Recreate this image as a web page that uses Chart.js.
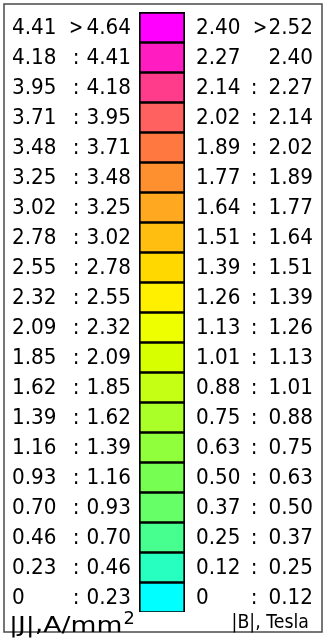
<!DOCTYPE html>
<html>
<head>
<meta charset="utf-8">
<script src="https://cdn.jsdelivr.net/npm/chart.js@4"></script>
<style>
  html, body { margin: 0; padding: 0; background: #fff; overflow: hidden; }
  #wrap { width: 325px; height: 638px; position: relative; }
</style>
</head>
<body>
<div id="wrap"><canvas id="legend" width="325" height="638"></canvas></div>
<script>
// Contour bands, listed from the top band to the bottom band.
const jLow = ['4.41', '4.18', '3.95', '3.71', '3.48', '3.25', '3.02', '2.78', '2.55', '2.32',
              '2.09', '1.85', '1.62', '1.39', '1.16', '0.93', '0.70', '0.46', '0.23', '0'];
const jSep = ['>', ':', ':', ':', ':', ':', ':', ':', ':', ':',
              ':', ':', ':', ':', ':', ':', ':', ':', ':', ':'];
const jHigh = ['4.64', '4.41', '4.18', '3.95', '3.71', '3.48', '3.25', '3.02', '2.78', '2.55',
               '2.32', '2.09', '1.85', '1.62', '1.39', '1.16', '0.93', '0.70', '0.46', '0.23'];
const bLow = ['2.40', '2.27', '2.14', '2.02', '1.89', '1.77', '1.64', '1.51', '1.39', '1.26',
              '1.13', '1.01', '0.88', '0.75', '0.63', '0.50', '0.37', '0.25', '0.12', '0'];
const bSep = ['>', '', ':', ':', ':', ':', ':', ':', ':', ':',
              ':', ':', ':', ':', ':', ':', ':', ':', ':', ':'];
const bHigh = ['2.52', '2.40', '2.27', '2.14', '2.02', '1.89', '1.77', '1.64', '1.51', '1.39',
               '1.26', '1.13', '1.01', '0.88', '0.75', '0.63', '0.50', '0.37', '0.25', '0.12'];
const bandColors = ['#FF00FF', '#FF1CC0', '#FF3C8C', '#FF6060', '#FF7840', '#FF9030', '#FFA820', '#FFBE10', '#FFD800', '#FFF000',
                    '#EEFF00', '#D8FF00', '#C4FF14', '#AAFF28', '#90FF3C', '#76FF52', '#66FF68', '#46FF8E', '#26FFC0', '#00FFFF'];
const jTitle = '|J|,A/mm';
const jTitleSup = '2';
const bTitle = '|B|, Tesla';

const bandCount = bandColors.length;
const FONT = "'DejaVu Sans', Verdana, sans-serif";

// One stacked column; dataset 0 sits at the bottom, so build from the lowest band up.
const datasets = bandColors.slice().reverse().map((color, k) => ({
  label: jLow[bandCount - 1 - k],
  data: [1],
  backgroundColor: color,
  borderColor: '#000',
  borderWidth: { top: 2, bottom: 1, left: 2, right: 2 },
  borderSkipped: false,
  barPercentage: 1,
  categoryPercentage: 1,
  stack: 'bands'
}));

// Text drawn with its own horizontal / vertical stretch.
function stretchedText(ctx, text, x, y, align, sx, sy) {
  ctx.save();
  ctx.translate(x, y);
  ctx.scale(sx, sy);
  ctx.textAlign = align;
  ctx.fillText(text, 0, 0);
  ctx.restore();
}

const legendText = {
  id: 'legendText',
  beforeDraw(chart) {
    const ctx = chart.ctx;
    ctx.save();
    ctx.fillStyle = '#fff';
    ctx.fillRect(0, 0, chart.width, chart.height);
    ctx.strokeStyle = '#4a4a4a';
    ctx.lineWidth = 1.5;
    ctx.strokeRect(4, 4, 318, 628);
    ctx.restore();
  },
  afterDraw(chart) {
    const ctx = chart.ctx;
    const y = chart.scales.y;
    ctx.save();
    ctx.fillStyle = '#000';
    ctx.font = '20px ' + FONT;
    ctx.textBaseline = 'middle';
    for (let i = 0; i < bandCount; i++) {
      const cy = y.getPixelForValue(bandCount - i - 0.5) + 1;
      const jGt = jSep[i] === '>';
      const bGt = bSep[i] === '>';
      stretchedText(ctx, jLow[i], 12, cy, 'left', 1, 1.06);
      stretchedText(ctx, jSep[i], 76, cy, 'center', jGt ? 0.85 : 1, 1.06);
      stretchedText(ctx, jHigh[i], 131, cy, 'right', 1, 1.06);
      stretchedText(ctx, bLow[i], 196, cy, 'left', 1, 1.06);
      stretchedText(ctx, bSep[i], bGt ? 260 : 254, cy, 'center', bGt ? 0.85 : 1, 1.06);
      stretchedText(ctx, bHigh[i], 313, cy, 'right', 1, 1.06);
    }
    ctx.textBaseline = 'alphabetic';
    ctx.font = '21px ' + FONT;
    stretchedText(ctx, jTitle, 9, 632, 'left', 1.27, 1.05);
    const w = ctx.measureText(jTitle).width * 1.27;
    ctx.font = '17px ' + FONT;
    stretchedText(ctx, jTitleSup, 9 + w + 1, 624, 'left', 1.05, 1.05);
    ctx.font = '17px ' + FONT;
    stretchedText(ctx, bTitle, 309, 628, 'right', 1.02, 1.12);
    ctx.restore();
  }
};

new Chart(document.getElementById('legend'), {
  type: 'bar',
  data: { labels: [''], datasets },
  options: {
    responsive: false,
    animation: false,
    layout: { padding: { left: 139, right: 140, top: 12, bottom: 26 } },
    scales: {
      x: { display: false, stacked: true },
      y: { display: false, stacked: true, min: 0, max: bandCount }
    },
    plugins: { legend: { display: false }, tooltip: { enabled: false } }
  },
  plugins: [legendText]
});
</script>
</body>
</html>
